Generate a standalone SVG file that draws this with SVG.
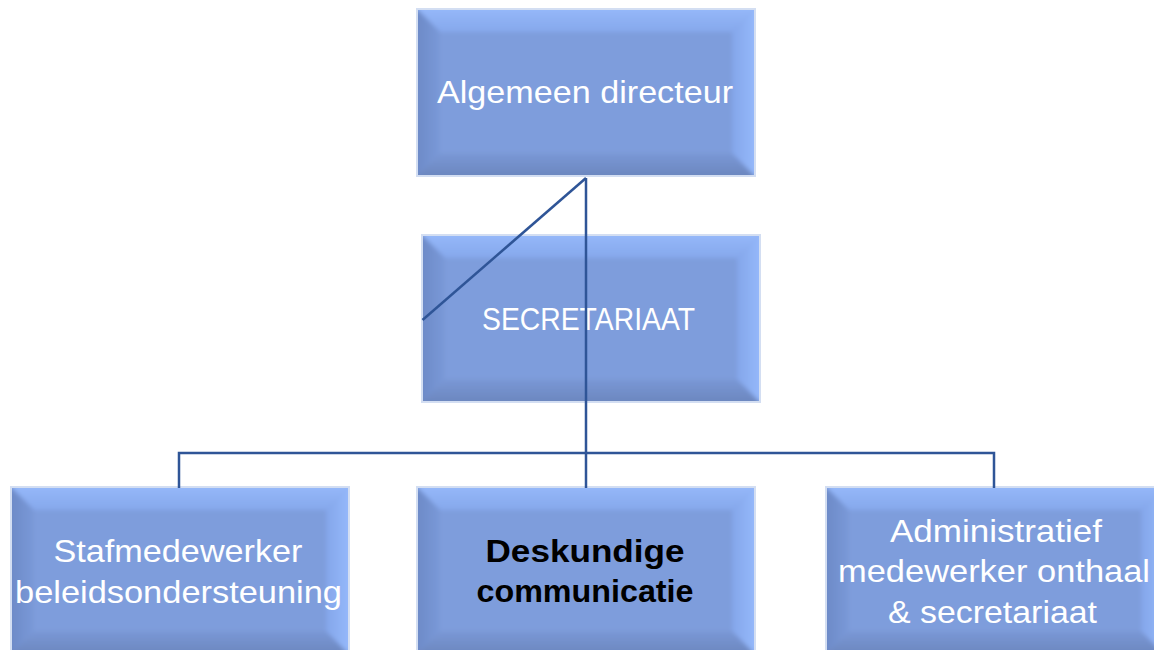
<svg xmlns="http://www.w3.org/2000/svg" width="1154" height="650" viewBox="0 0 1154 650">
<defs>
<linearGradient id="gT" x1="0" y1="0" x2="0" y2="1"><stop offset="0" stop-color="#98BBFC"/><stop offset="1" stop-color="#86A8EC"/></linearGradient>
<linearGradient id="gL" x1="0" y1="0" x2="1" y2="0"><stop offset="0" stop-color="#6A87C4"/><stop offset="1" stop-color="#7A99D8"/></linearGradient>
<linearGradient id="gB" x1="0" y1="0" x2="0" y2="1"><stop offset="0" stop-color="#7A98D6"/><stop offset="1" stop-color="#6983BA"/></linearGradient>
<linearGradient id="gR" x1="0" y1="0" x2="1" y2="0"><stop offset="0" stop-color="#84A6EA"/><stop offset="1" stop-color="#98BCFE"/></linearGradient>
<clipPath id="boxClip"><rect x="0" y="0" width="336" height="165"/></clipPath>
<filter id="soft" x="-0.05" y="-0.05" width="1.1" height="1.1"><feGaussianBlur stdDeviation="2.2"/></filter>
<style>
.edge{fill:none;stroke:#D3DEF2;stroke-width:2}
.face{fill:#7E9DDC}
.bt{fill:url(#gT)}
.bl{fill:url(#gL)}
.bb{fill:url(#gB)}
.br{fill:url(#gR)}
.lbl{font-family:"Liberation Sans",Arial,sans-serif;font-size:32px;fill:#FFFFFF;text-anchor:middle}
.bold{font-weight:bold;fill:#000000}
.conn{fill:none;stroke:#2F5597;stroke-width:2.5}
</style>
<g id="box">
<rect class="edge" x="-1" y="-1" width="338" height="167"/>
<rect class="face" x="0" y="0" width="336" height="165"/>
<g clip-path="url(#boxClip)">
<g filter="url(#soft)">
<rect class="face" x="0" y="0" width="336" height="165"/>
<polygon class="bt" points="-6,-6 342,-6 314,22 22,22"/>
<polygon class="bl" points="-6,-6 22,22 22,143 -6,171"/>
<polygon class="bb" points="-6,171 22,143 314,143 342,171"/>
<polygon class="br" points="342,-6 342,171 314,143 314,22"/>
</g>
</g>
</g>
</defs>
<g id="node-directeur">
<use href="#box" x="418" y="10"/>
<text class="lbl" x="585" y="103" textLength="296" lengthAdjust="spacingAndGlyphs">Algemeen directeur</text>
</g>
<g id="node-secretariaat">
<use href="#box" x="423" y="236"/>
<text class="lbl" x="588.5" y="330" textLength="213" lengthAdjust="spacingAndGlyphs">SECRETARIAAT</text>
</g>
<g id="node-stafmedewerker">
<use href="#box" x="12" y="488"/>
<text class="lbl" x="178" y="562" textLength="249" lengthAdjust="spacingAndGlyphs">Stafmedewerker</text>
<text class="lbl" x="178.5" y="603" textLength="327" lengthAdjust="spacingAndGlyphs">beleidsondersteuning</text>
</g>
<g id="node-deskundige">
<use href="#box" x="418" y="488"/>
<text class="lbl bold" x="585" y="562" textLength="199" lengthAdjust="spacingAndGlyphs">Deskundige</text>
<text class="lbl bold" x="585" y="602" textLength="217" lengthAdjust="spacingAndGlyphs">communicatie</text>
</g>
<g id="node-administratief">
<use href="#box" x="827" y="488"/>
<text class="lbl" x="996" y="542" textLength="212" lengthAdjust="spacingAndGlyphs">Administratief</text>
<text class="lbl" x="994" y="582" textLength="312" lengthAdjust="spacingAndGlyphs">medewerker onthaal</text>
<text class="lbl" x="992.5" y="623" textLength="209" lengthAdjust="spacingAndGlyphs">&amp; secretariaat</text>
</g>
<g id="connectors">
<path class="conn" d="M586,178 V453"/>
<path class="conn" d="M586,178 L422.5,320"/>
<path class="conn" d="M179,488 V453 H994 V488"/>
<path class="conn" d="M586,453 V488"/>
</g>
</svg>
